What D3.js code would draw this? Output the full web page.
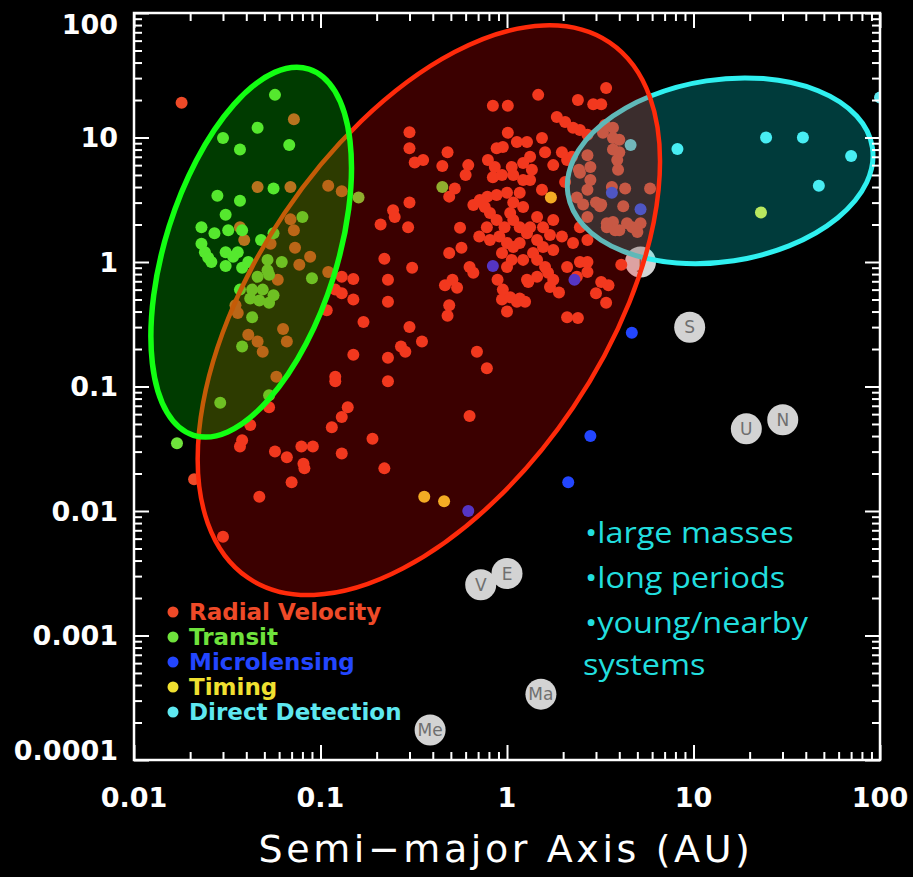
<!DOCTYPE html>
<html>
<head>
<meta charset="utf-8">
<script src="https://cdn.jsdelivr.net/npm/d3@7"></script>
<style>
  html, body { margin: 0; padding: 0; background: #000; }
  svg { display: block; }
</style>
</head>
<body>
<div id="chart"></div>
<script>
// [semi-major axis (AU), mass (Jupiter masses)]
var radialVelocity = [
  [0.018,19],[0.072,14],[0.046,4.0],[0.069,4.0],[0.11,4.1],[0.13,3.7],[0.037,1.9],[0.039,1.5],[0.069,2.2],[0.072,1.8],
  [0.054,1.4],[0.073,1.3],[0.088,1.1],[0.077,0.95],[0.11,0.83],[0.059,0.72],[0.13,0.76],[0.15,0.73],[0.12,0.60],[0.13,0.56],
  [0.15,0.50],[0.035,0.45],[0.036,0.39],[0.108,0.41],[0.17,0.33],[0.041,0.26],[0.046,0.23],[0.049,0.19],[0.063,0.29],[0.066,0.23],
  [0.15,0.18],[0.12,0.11],[0.058,0.12],[0.053,0.068],[0.042,0.049],[0.038,0.037],[0.037,0.033],[0.057,0.030],[0.066,0.027],[0.079,0.033],
  [0.091,0.033],[0.115,0.047],[0.14,0.068],[0.13,0.057],[0.19,0.038],[0.13,0.029],[0.21,2.0],[0.22,1.06],[0.23,0.72],[0.23,0.48],
  [0.23,0.17],[0.23,0.11],[0.021,0.018],[0.030,0.0062],[0.047,0.013],[0.081,0.024],[0.082,0.022],[0.070,0.017],[0.22,0.022],
  [0.49,0.45],[0.48,0.37],[0.94,0.50],[1.0,0.40],[1.13,0.48],[1.25,0.48],[2.1,0.36],[2.4,0.355],[0.30,0.30],[0.35,0.23],
  [0.27,0.21],[0.285,0.19],[0.69,0.19],[0.78,0.14],[0.63,0.058],[0.12,0.12],
  [1.66,0.82],[1.7,0.63],[1.9,0.57],[2.1,0.91],[3.2,0.69],[3.5,0.65],[3.0,0.56],[3.4,0.47],[2.7,1.0],[4.1,0.95],
  [3.4,25],[1.47,22],[2.4,20],[2.9,18.5],[3.2,18.5],[0.84,18],[1.01,18],[0.30,11],[0.30,8.2],[0.48,7.6],
  [0.355,6.6],[0.32,6.3],[0.45,5.9],[0.62,6.0],[0.60,5.0],
  [1.85,14.6],[2.05,13.3],[2.26,12],[2.46,11.5],[2.7,10.5],[1.01,10.9],[1.13,9.2],[1.28,9.2],[1.54,9.9],[0.88,8.2],
  [0.79,6.6],[0.86,5.8],[1.06,5.8],[1.33,7.0],[1.6,7.6],[1.97,7.6],[2.1,6.6],[1.77,6.0],[0.84,4.8],[0.94,5.0],
  [1.36,5.5],[1.33,4.55],[1.22,4.55],[1.54,3.8],[2.05,4.4],[2.43,5.5],[2.8,4.55],[2.7,3.8],[3.0,3.0],[2.56,2.9],
  [2.37,3.3],[2.7,2.3],[2.46,1.9],[3.15,2.8],
  [3.7,9.9],[4.0,9.6],[3.7,8.0],[4.0,7.6],[3.27,10.9],[3.9,6.6],[3.94,5.5],[4.3,3.9],[3.2,2.9],[4.2,2.8],
  [3.7,2.1],[3.43,2.05],[3.8,1.8],[4.4,2.05],[5.2,2.05],[5.85,3.9],[5.0,1.74],
  [2.7,1.5],[2.26,1.42],[1.97,1.6],[1.7,1.65],[1.56,1.9],[1.77,2.17],[1.45,2.3],[1.22,2.77],[1.08,3.0],[1.0,3.6],
  [1.17,3.6],[0.88,3.45],[0.785,3.35],[0.76,2.77],[0.81,2.47],[0.88,2.17],[1.04,2.47],[1.08,2.17],[1.17,1.9],[1.28,1.7],
  [1.33,1.9],[0.97,1.9],[0.78,1.9],[0.71,1.6],[0.81,1.5],[0.91,1.6],[1.0,1.42],[1.08,1.32],[1.17,1.42],[1.45,1.5],
  [1.56,1.32],[1.77,1.25],[1.38,1.18],[1.22,1.04],[1.45,1.04],[1.6,0.91],[1.77,0.72],[1.45,0.76],[1.28,0.72],[1.06,1.04],
  [0.94,1.18],[1.0,0.91],[0.89,0.72],[0.95,0.60],[1.04,0.52],[1.17,0.51],[1.3,0.69],[2.46,1.0],[2.7,0.83],[2.37,0.76],
  [0.56,1.88],[0.49,1.18],[0.57,1.3],[0.51,0.72],[0.465,0.65],[0.54,0.62],[0.63,0.91],[0.66,0.82],[0.31,0.90],[0.245,2.6],
  [0.25,2.3],[0.295,1.9],[0.30,3.0],[0.66,2.87],[0.715,3.15],[0.525,3.9],[0.49,3.35],[0.95,8.4],[1.22,6.25],[1.08,5.0],
  [3.7,12],[3.65,4.0],[4.7,1.9],[4.0,1.8],[3.43,1.9],[2.23,7.0],[3.35,12.6],[2.7,7.2],[2.8,5.8],[2.46,5.2]
];
var transit = [
  [0.057,22],[0.046,12],[0.030,9.9],[0.037,8.0],[0.068,8.7],[0.028,3.4],[0.037,3.1],[0.056,3.9],[0.16,3.3],[0.031,2.4],
  [0.023,1.9],[0.027,1.7],[0.032,1.8],[0.038,1.8],[0.080,2.3],[0.023,1.4],[0.024,1.2],[0.026,1.0],[0.031,1.2],[0.036,1.2],
  [0.031,0.93],[0.038,0.90],[0.041,1.0],[0.048,1.5],[0.056,1.7],[0.062,1.0],[0.052,1.04],[0.052,0.86],[0.046,0.76],[0.053,0.79],
  [0.037,0.60],[0.043,0.60],[0.049,0.60],[0.056,0.54],[0.042,0.51],[0.047,0.49],[0.053,0.47],[0.090,0.74],[0.043,0.36],[0.038,0.21],
  [0.029,0.074],[0.053,0.085],[0.017,0.035],[0.45,4.0],[0.025,1.08],[0.034,1.1]
];
var microlensing = [[0.84,0.93],[2.3,0.72],[3.65,3.6],[5.2,2.65],[4.67,0.27],[2.8,0.040],[2.13,0.017],[0.62,0.010]];
var timing = [[1.72,3.3],[0.36,0.013],[0.46,0.012],[23,2.5]];
var directDetection = [[4.6,8.7],[8.2,8.1],[24.5,10],[38.6,10],[70,7.1],[47,4.1],[100,21]];

var methods = ["Radial Velocity", "Transit", "Microlensing", "Timing", "Direct Detection"];

var planetNames = ["Me", "V", "E", "Ma", "J", "S", "U", "N"];
var planetA = [0.387, 0.723, 1.0, 1.52, 5.2, 9.54, 19.2, 30.1];
var planetM = [0.000174, 0.00256, 0.00315, 0.000338, 1.0, 0.299, 0.0457, 0.054];

var xTickValues = [0.01, 0.1, 1, 10, 100];
var xTickLabels = ["0.01", "0.1", "1", "10", "100"];
var yTickValues = [0.0001, 0.001, 0.01, 0.1, 1, 10, 100];
var yTickLabels = ["0.0001", "0.001", "0.01", "0.1", "1", "10", "100"];

var notes = ["\u2022large masses", "\u2022long periods", "\u2022young/nearby", "systems"];
var xTitle = "Semi\u2212major Axis (AU)";

var attrs = {
    width: 913,
    height: 877,
    margin: { top: 13, right: 33, bottom: 117, left: 134 },
    dotRadius: 6,
    planetRadius: 15.5,
    colors: ["#ee4a28", "#6fe23c", "#2346ff", "#f0e030", "#5ee8f0"],
    axisFont: "'DejaVu Sans', sans-serif"
};

// selection regions: centre in data units, radii in pixels
var regions = [
    { cx: 13.9, cy: 5.4, rx: 154, ry: 91, rot: -8.7, stroke: "#2ff0f0", fill: "#00ffff", width: 5 },
    { cx: 0.381, cy: 0.41, rx: 323, ry: 174, rot: -56, stroke: "#ff2a0a", fill: "#ff0000", width: 4.5 },
    { cx: 0.0425, cy: 1.2, rx: 192, ry: 86, rot: -72.5, stroke: "#12ff12", fill: "#00ff00", width: 5.5 }
];

var W = attrs.width - attrs.margin.left - attrs.margin.right;
var H = attrs.height - attrs.margin.top - attrs.margin.bottom;

var x = d3.scaleLog().domain([0.01, 100]).range([0, W]);
var y = d3.scaleLog().domain([0.0001, 100]).range([H, 0]);

var svg = d3.select("#chart").append("svg")
    .attr("width", attrs.width)
    .attr("height", attrs.height)
    .style("background", "#000");

svg.append("defs").append("clipPath").attr("id", "plotClip")
    .append("rect").attr("width", W).attr("height", H);

var g = svg.append("g")
    .attr("transform", "translate(" + attrs.margin.left + "," + attrs.margin.top + ")");

var plot = g.append("g").attr("clip-path", "url(#plotClip)");

// solar system planets
var planets = plot.selectAll("g.planet")
    .data(planetNames.map(function(n, i){ return { name: n, a: planetA[i], m: planetM[i] }; }))
    .enter().append("g")
    .attr("class", "planet")
    .attr("transform", function(d){ return "translate(" + x(d.a) + "," + y(d.m) + ")"; });
planets.append("circle")
    .attr("r", attrs.planetRadius)
    .style("fill", "#d3d3d3");
planets.append("text")
    .attr("text-anchor", "middle")
    .attr("dy", "0.36em")
    .style("font-family", attrs.axisFont)
    .style("font-size", "17px")
    .style("fill", "#6f6f6f")
    .text(function(d){ return d.name; });

// exoplanets by detection method
var series = [radialVelocity, transit, microlensing, timing, directDetection];
series.forEach(function(pts, i){
    plot.append("g").selectAll("circle")
        .data(pts)
        .enter().append("circle")
        .attr("cx", function(d){ return x(d[0]); })
        .attr("cy", function(d){ return y(d[1]); })
        .attr("r", attrs.dotRadius)
        .style("fill", attrs.colors[i]);
});

// translucent regions drawn over the points
regions.forEach(function(r){
    var t = "translate(" + x(r.cx) + "," + y(r.cy) + ") rotate(" + r.rot + ")";
    plot.append("ellipse")
        .attr("transform", t)
        .attr("rx", r.rx).attr("ry", r.ry)
        .style("fill", r.fill)
        .style("fill-opacity", 0.23)
        .style("stroke", r.stroke)
        .style("stroke-width", r.width);
});

// axes: major and minor ticks pointing inward on all four sides
var majorX = xTickValues;
var minorX = x.ticks().filter(function(v){ return majorX.indexOf(v) < 0; });
var majorY = yTickValues;
var minorY = y.ticks().filter(function(v){ return majorY.indexOf(v) < 0; });

function drawAxis(axisFn, scale, values, size, tx, ty){
    var ax = g.append("g")
        .attr("transform", "translate(" + tx + "," + ty + ")")
        .call(axisFn(scale).tickValues(values).tickSize(-size).tickFormat(""));
    ax.select(".domain").remove();
    ax.selectAll("line").style("stroke", "#fff").style("stroke-width", 2);
}
drawAxis(d3.axisBottom, x, majorX, 15, 0, H);
drawAxis(d3.axisBottom, x, minorX, 8, 0, H);
drawAxis(d3.axisTop, x, majorX, 15, 0, 0);
drawAxis(d3.axisTop, x, minorX, 8, 0, 0);
drawAxis(d3.axisLeft, y, majorY, 15, 0, 0);
drawAxis(d3.axisLeft, y, minorY, 8, 0, 0);
drawAxis(d3.axisRight, y, majorY, 15, W, 0);
drawAxis(d3.axisRight, y, minorY, 8, W, 0);

g.append("rect")
    .attr("width", W).attr("height", H)
    .style("fill", "none")
    .style("stroke", "#fff")
    .style("stroke-width", 2.5);

// tick labels
g.selectAll("text.xlab")
    .data(xTickValues)
    .enter().append("text")
    .attr("class", "xlab")
    .attr("x", function(d){ return x(d); })
    .attr("y", H + 47)
    .attr("text-anchor", "middle")
    .style("font-family", attrs.axisFont)
    .style("font-weight", "bold")
    .style("font-size", "27px")
    .style("fill", "#fff")
    .text(function(d, i){ return xTickLabels[i]; });

g.selectAll("text.ylab")
    .data(yTickValues)
    .enter().append("text")
    .attr("class", "ylab")
    .attr("x", -16)
    .attr("y", function(d){ return y(d); })
    .attr("dy", function(d, i){
        if (i === 0) return "0em";
        if (i === yTickValues.length - 1) return "0.78em";
        return "0.37em";
    })
    .attr("text-anchor", "end")
    .style("font-family", attrs.axisFont)
    .style("font-weight", "bold")
    .style("font-size", "27px")
    .style("fill", "#fff")
    .text(function(d, i){ return yTickLabels[i]; });

// axis title
g.append("text")
    .attr("x", (W / 2) - 1)
    .attr("y", H + 102)
    .attr("text-anchor", "middle")
    .style("font-family", attrs.axisFont)
    .style("font-size", "38px")
    .style("letter-spacing", "3.6px")
    .style("fill", "#fff")
    .text(xTitle);

// legend
var legend = g.selectAll("g.legend")
    .data(methods)
    .enter().append("g")
    .attr("class", "legend")
    .attr("transform", function(d, i){ return "translate(39," + (599 + i * 25) + ")"; });
legend.append("circle")
    .attr("r", 5.5)
    .style("fill", function(d, i){ return attrs.colors[i]; });
legend.append("text")
    .attr("x", 16)
    .attr("dy", "0.36em")
    .style("font-family", attrs.axisFont)
    .style("font-weight", "bold")
    .style("font-size", "23px")
    .style("fill", function(d, i){ return attrs.colors[i]; })
    .text(function(d){ return d; });

// note on direct detection
g.selectAll("text.note")
    .data(notes)
    .enter().append("text")
    .attr("class", "note")
    .attr("transform", function(d, i){
        var ty = [530, 575, 620, 662][i];
        var tx = i === 3 ? 449 : 451;
        return "translate(" + tx + "," + ty + ") scale(1.16,1.04)";
    })
    .style("font-family", "'Open Sans', sans-serif")
    .style("font-size", "28px")
    .style("fill", "#22dede")
    .text(function(d){ return d; });
</script>
</body>
</html>
